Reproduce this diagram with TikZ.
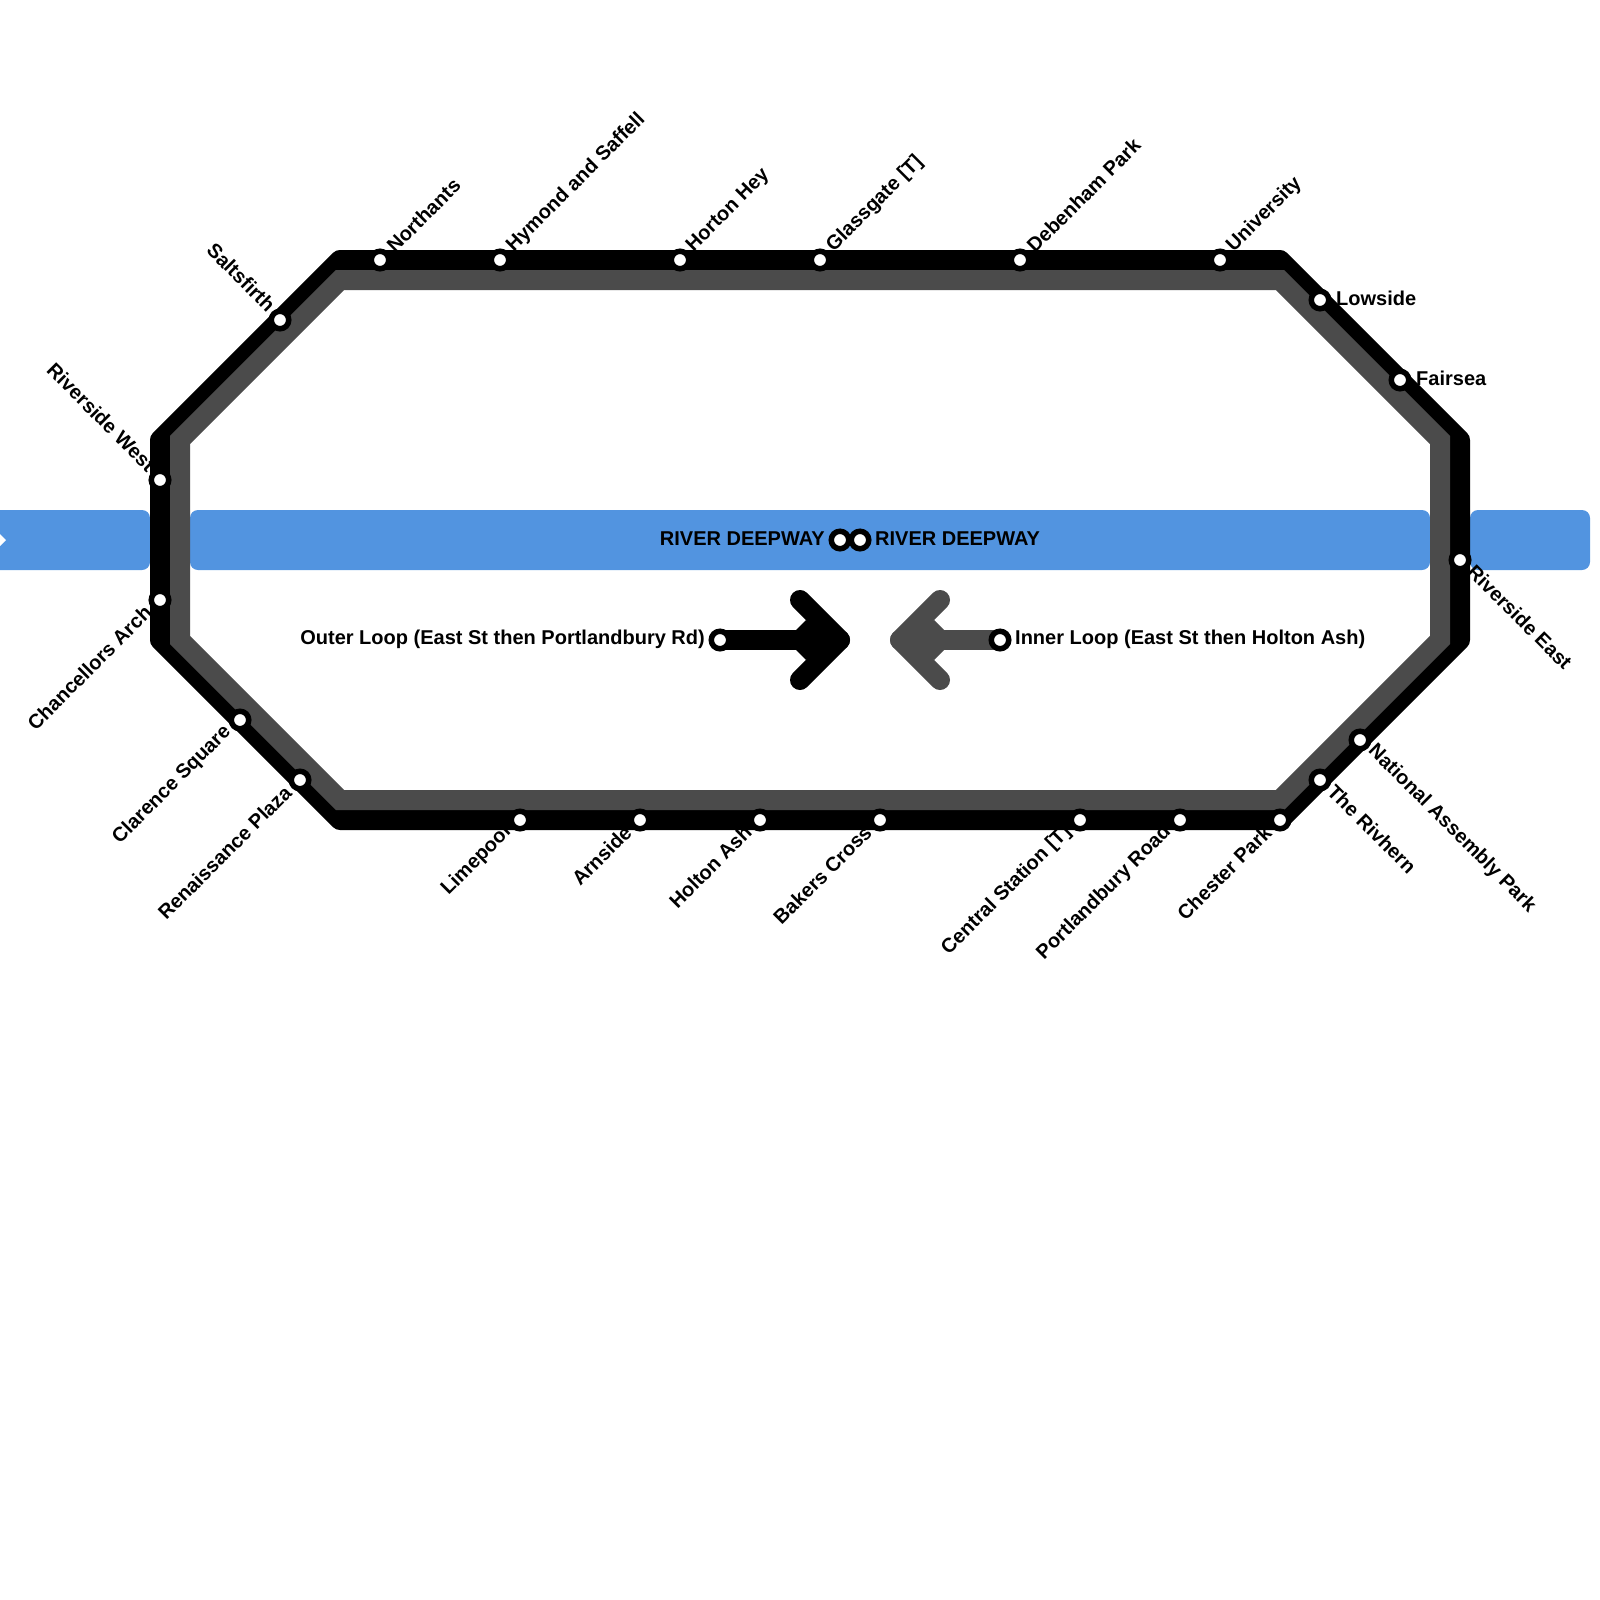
\documentclass[tikz,border=0pt]{standalone}
\usepackage{fontspec}
\setmainfont{Liberation Sans}
\usetikzlibrary{calc}
\definecolor{river}{HTML}{5294E0}
\definecolor{inner}{HTML}{4B4B4B}
\tikzset{
 x=1pt,y=-1pt,
 riverbar/.style={fill=river,rounded corners=8pt,draw=none},
 outerline/.style={draw=black,line width=20pt,line join=round,line cap=round},
 innerline/.style={draw=inner,line width=20pt,line join=round,line cap=round},
 stn/.style={circle,draw=black,fill=white,line width=5.5pt,minimum size=17.5pt,inner sep=0pt},
 lab/.style={font=\bfseries\fontsize{20}{24}\selectfont,text=black,inner sep=0pt},
 ur/.style={lab,rotate=45,anchor=west},
 dl/.style={lab,rotate=45,anchor=east},
 dr/.style={lab,rotate=-45,anchor=west},
 ul/.style={lab,rotate=-45,anchor=east},
 rt/.style={lab,anchor=west},
 lt/.style={lab,anchor=east}
}
\begin{document}
\begin{tikzpicture}
\useasboundingbox (0,0) rectangle (1600,1600);
% river
\path[riverbar] (-30,510) rectangle (150,570);
\path[riverbar] (190,510) rectangle (1430,570);
\path[riverbar] (1470,510) rectangle (1590,570);
\fill[white] (0,534) -- (6,540) -- (0,546) -- cycle;
% corners
\coordinate (oa) at (160,440); \coordinate (ob) at (340,260); \coordinate (oc) at (1280,260); \coordinate (od) at (1460,440);
\coordinate (oe) at (1460,640); \coordinate (of) at (1280,820); \coordinate (og) at (340,820); \coordinate (oh) at (160,640);
\coordinate (ia) at (180,440); \coordinate (ib) at (340,280); \coordinate (ic) at (1280,280); \coordinate (id) at (1440,440);
\coordinate (ie) at (1440,640); \coordinate (if) at (1280,800); \coordinate (ig) at (340,800); \coordinate (ih) at (180,640);
\path[outerline] (oa) -- (ob) -- (oc) -- (od) -- (oe) -- (of) -- (og) -- (oh) -- cycle;
\path[innerline,line join=miter] (ia) -- (ib) -- (ic) -- (id) -- (ie) -- (if) -- (ig) -- (ih) -- cycle;
% arrows
\coordinate (ot) at (840,640); \coordinate (ou) at (800,600); \coordinate (ol) at (800,680);
\coordinate (it) at (900,640); \coordinate (iu) at (940,600); \coordinate (il) at (940,680);
\coordinate (os) at (720,640); \coordinate (is) at (1000,640);
\fill[black] (806,620) -- (796,630) -- (796,650) -- (806,660) -- (840,640) -- cycle;
\fill[inner] (934,620) -- (944,630) -- (944,650) -- (934,660) -- (900,640) -- cycle;
\path[outerline] (os) -- (ot);
\path[outerline] (ou) -- (ot) -- (ol);
\path[innerline] (is) -- (it);
\path[innerline] (iu) -- (it) -- (il);
% stations
\node[stn] (s1) at (380,260) {};
\node[stn] (s2) at (500,260) {};
\node[stn] (s3) at (680,260) {};
\node[stn] (s4) at (820,260) {};
\node[stn] (s5) at (1020,260) {};
\node[stn] (s6) at (1220,260) {};
\node[stn] (s7) at (1320,300) {};
\node[stn] (s8) at (1400,380) {};
\node[stn] (s9) at (280,320) {};
\node[stn] (s10) at (160,480) {};
\node[stn] (s11) at (160,600) {};
\node[stn] (s12) at (240,720) {};
\node[stn] (s13) at (300,780) {};
\node[stn] (s14) at (520,820) {};
\node[stn] (s15) at (640,820) {};
\node[stn] (s16) at (760,820) {};
\node[stn] (s17) at (880,820) {};
\node[stn] (s18) at (1080,820) {};
\node[stn] (s19) at (1180,820) {};
\node[stn] (s20) at (1280,820) {};
\node[stn] (s21) at (1320,780) {};
\node[stn] (s22) at (1360,740) {};
\node[stn] (s23) at (1460,560) {};
\node[stn] (s24) at (840,540) {};
\node[stn] (s25) at (860,540) {};
\node[stn] (s26) at (720,640) {};
\node[stn] (s27) at (1000,640) {};
% labels
\node[ur] (l1) at ($(s1)+(10,-11)$) {Northants};
\node[ur] (l2) at ($(s2)+(10,-11)$) {Hymond and Saffell};
\node[ur] (l3) at ($(s3)+(10,-11)$) {Horton Hey};
\node[ur] (l4) at ($(s4)+(10,-11)$) {Glassgate [T]};
\node[ur] (l5) at ($(s5)+(10,-11)$) {Debenham Park};
\node[ur] (l6) at ($(s6)+(10,-11)$) {University};
\node[rt] (l7) at ($(s7)+(16,-2)$) {Lowside};
\node[rt] (l8) at ($(s8)+(16,-2)$) {Fairsea};
\node[ul] (l9) at ($(s9)+(-8,-12)$) {Saltsfirth};
\node[ul] (l10) at ($(s10)+(-8,-12)$) {Riverside West};
\node[dl] (l11) at ($(s11)+(-12,9)$) {Chancellors Arch};
\node[dl] (l12) at ($(s12)+(-12,9)$) {Clarence Square};
\node[dl] (l13) at ($(s13)+(-12,9)$) {Renaissance Plaza};
\node[dl] (l14) at ($(s14)+(-12,9)$) {Limepool};
\node[dl] (l15) at ($(s15)+(-12,9)$) {Arnside};
\node[dl] (l16) at ($(s16)+(-12,9)$) {Holton Ash};
\node[dl] (l17) at ($(s17)+(-12,9)$) {Bakers Cross};
\node[dl] (l18) at ($(s18)+(-12,9)$) {Central Station [T]};
\node[dl] (l19) at ($(s19)+(-12,9)$) {Portlandbury Road};
\node[dl] (l20) at ($(s20)+(-12,9)$) {Chester Park};
\node[dr] (l21) at ($(s21)+(11,8)$) {The Rivhern};
\node[dr] (l22) at ($(s22)+(11,8)$) {National Assembly Park};
\node[dr] (l23) at ($(s23)+(11,8)$) {Riverside East};
\node[lt] (l24) at ($(s24)+(-15,-1)$) {RIVER DEEPWAY};
\node[rt] (l25) at ($(s25)+(15,-1)$) {RIVER DEEPWAY};
\node[lt] (l26) at ($(s26)+(-15,-1)$) {Outer Loop (East St then Portlandbury Rd)};
\node[rt] (l27) at ($(s27)+(15,-1)$) {Inner Loop (East St then Holton Ash)};
\end{tikzpicture}
\end{document}
